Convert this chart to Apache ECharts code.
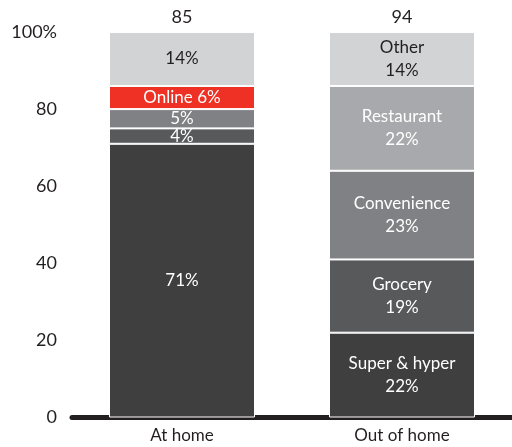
<!DOCTYPE html>
<html>
<head>
<meta charset="utf-8">
<script src="https://cdn.jsdelivr.net/npm/echarts@6/dist/echarts.min.js"></script>
<style>
  html, body { margin: 0; padding: 0; background: #fff; }
  #chart { width: 512px; height: 447px; }
</style>
</head>
<body>
<div id="chart"></div>
<script>
// Channel mix, stacked to 100% for each location
const categories = ['At home', 'Out of home'];
const totals = [85, 94];

// segments listed bottom to top
const atHomeShares = [71, 4, 5, 6, 14];
const atHomeNames = ['', '', '', 'Online', ''];
const outOfHomeShares = [22, 19, 23, 22, 14];
const outOfHomeNames = ['Super & hyper', 'Grocery', 'Convenience', 'Restaurant', 'Other'];

const yTicks = [0, 20, 40, 60, 80, 100];

const atHomeColors = ['#3f3f40', '#58595b', '#808184', '#ee3124', '#d1d3d4'];
const outOfHomeColors = ['#3f3f40', '#58595b', '#808184', '#a7a9ac', '#d1d3d4'];
const lightFill = '#d1d3d4';
const FONT = 'Lato, "Noto Sans", sans-serif';

function segLabel(name, value, sep) {
  return name ? name + sep + value + '%' : value + '%';
}

const levels = atHomeShares.map((_, i) => i);
const series = levels.map(i => ({
  type: 'bar',
  stack: 'share',
  barWidth: 146,
  data: [
    {
      value: atHomeShares[i],
      itemStyle: { color: atHomeColors[i] },
      label: {
        formatter: segLabel(atHomeNames[i], atHomeShares[i], ' '),
        color: atHomeColors[i] === lightFill ? '#231f20' : '#ffffff'
      }
    },
    {
      value: outOfHomeShares[i],
      itemStyle: { color: outOfHomeColors[i] },
      label: {
        formatter: segLabel(outOfHomeNames[i], outOfHomeShares[i], '\n'),
        color: outOfHomeColors[i] === lightFill ? '#231f20' : '#ffffff'
      }
    }
  ],
  itemStyle: { borderColor: '#ffffff', borderWidth: 1 },
  label: {
    show: true,
    position: 'inside',
    fontFamily: FONT,
    fontSize: 17,
    lineHeight: 23
  },
  silent: true
}));

// totals printed above each column
series.push({
  type: 'scatter',
  symbol: 'circle',
  symbolSize: 1,
  itemStyle: { opacity: 0 },
  data: categories.map(() => 100),
  label: {
    show: true,
    position: 'top',
    distance: 5,
    formatter: p => String(totals[p.dataIndex]),
    fontFamily: FONT,
    fontSize: 18,
    color: '#231f20',
    opacity: 1
  },
  silent: true
});

const chart = echarts.init(document.getElementById('chart'));
chart.setOption({
  animation: false,
  grid: { left: 72, right: 0, top: 32, bottom: 29.5 },
  xAxis: {
    type: 'category',
    data: categories,
    axisLine: { lineStyle: { color: '#231f20', width: 5 } },
    axisTick: { show: false },
    axisLabel: {
      fontFamily: FONT,
      fontSize: 17,
      color: '#231f20',
      margin: 10
    }
  },
  yAxis: {
    type: 'value',
    min: yTicks[0],
    max: yTicks[yTicks.length - 1],
    interval: 20,
    splitLine: { show: false },
    axisLine: { show: false },
    axisTick: { show: false },
    axisLabel: {
      fontFamily: FONT,
      fontSize: 18,
      color: '#231f20',
      margin: 15,
      padding: [0, 0, 8, 0],
      formatter: v => (v === 100 ? v + '%' : String(v))
    }
  },
  series: series
});
</script>
</body>
</html>
